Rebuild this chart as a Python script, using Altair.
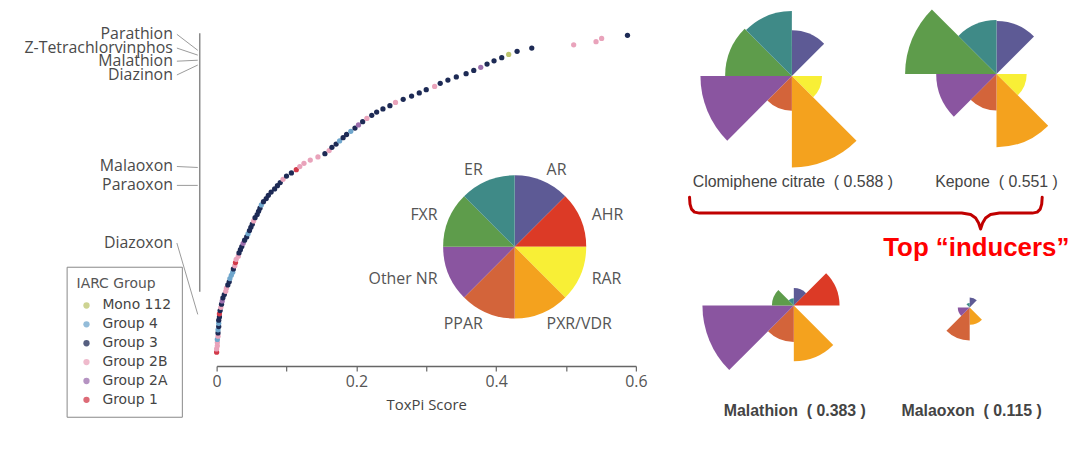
import altair as alt
import pandas as pd

# ---------------- data ----------------
scores = [0.000, 0.000, 0.001, 0.001, 0.001, 0.002, 0.002, 0.002, 0.003, 0.003,
          0.003, 0.004, 0.004, 0.005, 0.006, 0.007, 0.008, 0.009, 0.011, 0.013,
          0.014, 0.016, 0.018, 0.019, 0.021, 0.023, 0.024, 0.026, 0.027, 0.028,
          0.031, 0.032, 0.034, 0.036, 0.038, 0.040, 0.043, 0.045, 0.047, 0.049,
          0.051, 0.053, 0.055, 0.058, 0.060, 0.062, 0.064, 0.067, 0.071, 0.074,
          0.078, 0.083, 0.087, 0.091, 0.095, 0.100, 0.107, 0.114, 0.119, 0.125,
          0.134, 0.145, 0.155, 0.161, 0.165, 0.171, 0.176, 0.181, 0.186, 0.192,
          0.198, 0.203, 0.209, 0.215, 0.222, 0.229, 0.238, 0.248, 0.256, 0.267,
          0.279, 0.290, 0.300, 0.312, 0.320, 0.331, 0.343, 0.357, 0.368, 0.378,
          0.387, 0.397, 0.408, 0.418, 0.430, 0.451, 0.511, 0.543, 0.551, 0.588]

group_codes = ["1", "B", "B", "B", "4", "B", "3", "4", "3", "4",
               "3", "3", "1", "3", "B", "3", "A", "3", "3", "B",
               "B", "3", "3", "4", "4", "4", "3", "B", "1", "B",
               "B", "3", "3", "3", "A", "3", "3", "4", "3", "3",
               "3", "B", "3", "3", "3", "3", "4", "3", "3", "3",
               "3", "3", "3", "3", "B", "3", "3", "1", "B", "B",
               "B", "B", "3", "B", "3", "3", "4", "3", "3", "4",
               "3", "A", "3", "B", "3", "3", "3", "3", "B", "3",
               "3", "3", "3", "B", "3", "3", "3", "3", "3", "A",
               "3", "3", "3", "M", "3", "3", "B", "B", "B", "3"]
code_names = {"M": "Mono 112", "4": "Group 4", "3": "Group 3",
              "B": "Group 2B", "A": "Group 2A", "1": "Group 1"}
group_names = ["Mono 112", "Group 4", "Group 3", "Group 2B", "Group 2A", "Group 1"]
group_colors = ["#bcc46e", "#6fa6cc", "#1d2a55", "#e9a3bb", "#9c6fad", "#d23a4a"]

label_names = ["Parathion", "Z-Tetrachlorvinphos", "Malathion", "Diazinon",
               "Malaoxon", "Paraoxon", "Diazoxon"]
label_rank = [100.3, 96.0, 91.9, 87.6, 59.0, 53.1, 35.1]
target_rank = [95.3, 93.8, 92.2, 90.7, 58.7, 53.1, 12.8]
axis_line_rank = [100.6, 19.9]

slice_names = ["AR", "AHR", "RAR", "PXR/VDR", "PPAR", "Other NR", "FXR", "ER"]
slice_colors = ["#5d5a95", "#dc3a26", "#f8ef36", "#f4a21e", "#d3643a",
                "#8a55a0", "#5e9c4b", "#3f8a87"]

chem_names = ["Clomiphene citrate", "Kepone", "Malathion", "Malaoxon"]
chem_scores = [0.588, 0.551, 0.383, 0.115]
clomiphene_vals = [0.50, 0.00, 0.33, 1.00, 0.38, 1.00, 0.73, 0.71]
kepone_vals = [0.58, 0.00, 0.33, 0.80, 0.40, 0.66, 1.00, 0.59]
malathion_vals = [0.19, 0.50, 0.00, 0.61, 0.40, 1.00, 0.24, 0.08]
malaoxon_vals = [0.11, 0.00, 0.00, 0.19, 0.36, 0.13, 0.00, 0.05]

# ---------------- frames ----------------
scatter_df = pd.DataFrame({
    "rank": list(range(1, len(scores) + 1)),
    "score": scores,
    "group": [code_names[c] for c in group_codes],
})
labels_df = pd.DataFrame({"name": label_names, "label_rank": label_rank,
                          "target_rank": target_rank})
axisline_df = pd.DataFrame({"r1": [axis_line_rank[0]], "r2": [axis_line_rank[1]]})
slices_df = pd.DataFrame({"name": slice_names, "slot": list(range(len(slice_names)))})
rose_rows = []
for chem, vals in zip(chem_names, [clomiphene_vals, kepone_vals, malathion_vals, malaoxon_vals]):
    for i, (s, v) in enumerate(zip(slice_names, vals)):
        rose_rows.append({"chem": chem, "name": s, "slot": i, "value": v})
rose_df = pd.DataFrame(rose_rows)
one = pd.DataFrame({"a": [0]})

# ---------------- scales ----------------
y_scale = alt.Scale(domain=[1, 100], range=[345, 26], zero=False, nice=False)
x_scale = alt.Scale(domain=[0, 0.6], range=[210, 632], zero=False, nice=False)
theta_scale = alt.Scale(domain=[0, 8], range=[0, 6.283185307179586])
slice_scale = alt.Scale(domain=slice_names, range=slice_colors)
radius_scale = alt.Scale(type="linear", domain=[0, 1], range=[0, 92], zero=True, nice=False)

TXT = "#4a4a4a"
NB = "\u00a0"

scatter = alt.Chart(scatter_df).mark_circle(size=28, opacity=1).encode(
    x=alt.X("score:Q", scale=x_scale, axis=alt.Axis(
        values=[0, 0.1, 0.2, 0.3, 0.4, 0.5, 0.6],
        labelExpr="round(datum.value*10) % 2 == 0 ? format(datum.value, '~g') : ''",
        title="ToxPi Score", grid=False, domainColor="#666", domainWidth=1.5,
        tickColor="#666", tickWidth=1.2, tickSize=5, labelFont="Open Sans",
        labelFontSize=16, labelColor="#555", labelPadding=3, labelFlush=False,
        titleFont="Open Sans", titleFontSize=15, titleFontWeight="normal",
        titleColor="#444", titlePadding=8)),
    y=alt.Y("rank:Q", scale=y_scale, axis=None),
    color=alt.Color("group:N", scale=alt.Scale(domain=group_names, range=group_colors),
                    legend=alt.Legend(
                        title="IARC Group", orient="none", legendX=59, legendY=259,
                        titleFont="DejaVu Sans", titleFontSize=14, titleFontWeight="normal",
                        titleColor="#555", titlePadding=8, labelFont="DejaVu Sans",
                        labelFontSize=14, labelColor="#444", symbolType="circle",
                        symbolSize=40, symbolStrokeWidth=0, symbolOpacity=0.75,
                        symbolOffset=3, labelOffset=9, rowPadding=5, padding=10,
                        strokeColor="#888")),
)

vline = alt.Chart(axisline_df).mark_rule(color="#8a8a8a", strokeWidth=1.5).encode(
    x=alt.value(193),
    y=alt.Y("r1:Q", scale=y_scale, axis=None),
    y2="r2:Q",
)

chem_labels = alt.Chart(labels_df).mark_text(
    align="right", baseline="middle", font="Open Sans", fontSize=16, color=TXT
).encode(
    x=alt.value(166),
    y=alt.Y("label_rank:Q", scale=y_scale, axis=None),
    text="name:N",
)

leaders = alt.Chart(labels_df).mark_rule(color="#9a9a9a", strokeWidth=1).encode(
    x=alt.value(170), x2=alt.value(191),
    y=alt.Y("label_rank:Q", scale=y_scale, axis=None),
    y2="target_rank:Q",
)

PIE_X, PIE_Y = 510, 239
pie = alt.Chart(slices_df).transform_calculate(
    slot_end="datum.slot + 1"
).mark_arc(outerRadius=72).encode(
    theta=alt.Theta("slot:Q", scale=theta_scale, stack=False),
    theta2="slot_end:Q",
    color=alt.Color("name:N", scale=slice_scale, legend=None),
    x=alt.value(PIE_X), y=alt.value(PIE_Y),
)

def pie_labels(cond, align):
    return alt.Chart(slices_df).transform_calculate(
        mid="datum.slot + 0.5"
    ).transform_filter(cond).mark_text(
        radius=84, align=align, baseline="middle", font="Open Sans",
        fontSize=16, color="#555"
    ).encode(
        theta=alt.Theta("mid:Q", scale=theta_scale, stack=False),
        text="name:N",
        x=alt.value(PIE_X), y=alt.value(PIE_Y),
    )

pie_lab_r = pie_labels("datum.slot < 4", "left")
pie_lab_l = pie_labels("datum.slot >= 4", "right")

rose_centers = [(789, 67), (995, 65), (791, 298), (968, 300)]
label_pos = [(790, 174), (995, 174), (792, 404), (970, 404)]
label_bold = ["normal", "normal", "bold", "bold"]

roses = []
for chem, (cx, cy), (lx, ly), fw, sc in zip(chem_names, rose_centers, label_pos, label_bold, chem_scores):
    roses.append(
        alt.Chart(rose_df).transform_filter(alt.datum.chem == chem).transform_calculate(
            slot_end="datum.slot + 1"
        ).mark_arc().encode(
            theta=alt.Theta("slot:Q", scale=theta_scale, stack=False),
            theta2="slot_end:Q",
            radius=alt.Radius("value:Q", scale=radius_scale),
            color=alt.Color("name:N", scale=slice_scale, legend=None),
            x=alt.value(cx), y=alt.value(cy),
        )
    )
    roses.append(
        alt.Chart(one).mark_text(
            text=f"{chem}{NB}{NB}({NB}{sc:.3f}{NB})", align="center", baseline="middle",
            font="Liberation Sans", fontSize=16, fontWeight=fw, color="#444"
        ).encode(x=alt.value(lx), y=alt.value(ly))
    )

top_text = alt.Chart(one).mark_text(
    text="Top “inducers”", align="left", baseline="alphabetic",
    font="Liberation Sans", fontSize=26, fontWeight="bold", color="#ff0000"
).encode(x=alt.value(881), y=alt.value(248))

brace_x = [686, 686.5, 688, 691, 696, 960, 969, 974, 977, 979, 981, 984, 989, 998,
           1031, 1036, 1039, 1040.5, 1041]
brace_y = [189, 196, 201, 204, 205, 205, 206.5, 210, 215, 221, 215, 210, 206.5, 205,
           205, 204, 201, 196, 189]
brace_df = pd.DataFrame({"bx": brace_x, "by": brace_y, "i": list(range(len(brace_x)))})
brace = alt.Chart(brace_df).mark_line(
    color="#c00000", strokeWidth=3, strokeCap="round", strokeJoin="round"
).encode(
    x=alt.X("bx:Q", scale=alt.Scale(domain=[0, 1065], range=[0, 1065], zero=False, nice=False), axis=None),
    y=alt.Y("by:Q", scale=alt.Scale(domain=[0, 359], range=[0, 359], zero=False, nice=False), axis=None),
    order="i:Q",
)

chart = alt.layer(
    vline, leaders, chem_labels, pie, pie_lab_r, pie_lab_l, scatter,
    *roses, brace, top_text
).resolve_scale(
    x="independent", y="independent", color="independent"
).properties(
    width=1065, height=359,
    autosize=alt.AutoSizeParams(type="none"),
    padding={"left": 0, "top": 0, "right": 7, "bottom": 80},
    background="white",
).configure_view(stroke="transparent")

chart.save("out.html", embed_options={"renderer": "svg", "actions": False})
